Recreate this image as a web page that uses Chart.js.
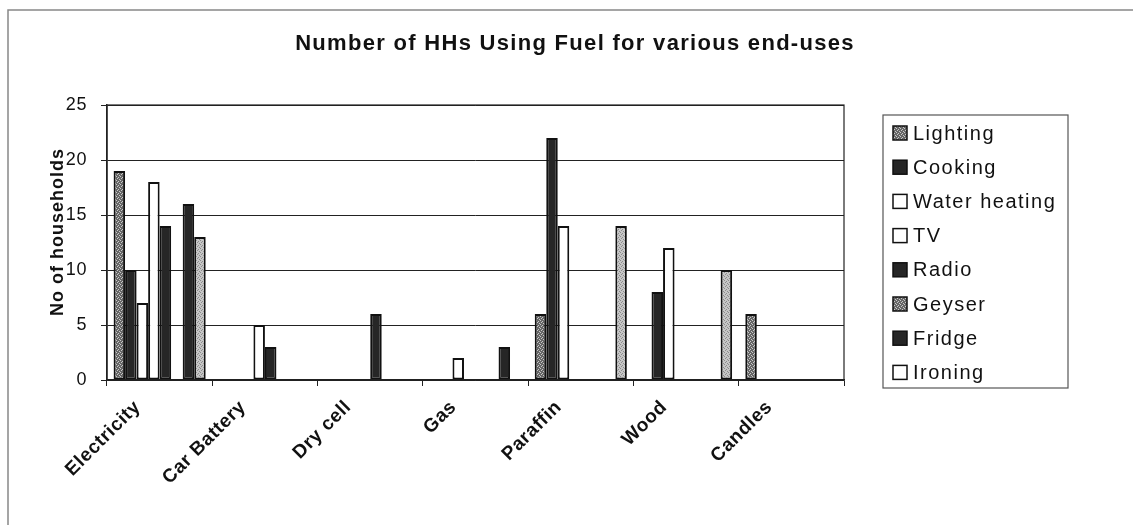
<!DOCTYPE html>
<html><head><meta charset="utf-8">
<script src="https://cdn.jsdelivr.net/npm/chart.js@4.4.1/dist/chart.umd.min.js"></script>
<style>html,body{margin:0;padding:0;background:#fff;overflow:hidden}#wrap{width:1133px;height:525px;position:relative}</style>
</head><body><div id="wrap"><canvas id="c" width="1133" height="525"></canvas></div>
<script>
const categories = ['Electricity','Car Battery','Dry cell','Gas','Paraffin','Wood','Candles'];
const seriesNames = ['Lighting','Cooking','Water heating','TV','Radio','Geyser','Fridge','Ironing'];
const lighting     = [19, 0, 0, 0,  6,  0, 6];
const cooking      = [10, 0, 0, 0, 22,  8, 0];
const waterHeating = [ 7, 0, 0, 2, 14, 12, 0];
const tv           = [18, 5, 0, 0,  0,  0, 0];
const radio        = [14, 3, 6, 0,  0,  0, 0];
const geyser       = [ 0, 0, 0, 0,  0,  0, 0];
const fridge       = [16, 0, 0, 3,  0,  0, 0];
const ironing      = [13, 0, 0, 0, 14, 10, 0];
const yTicks = [0, 5, 10, 15, 20, 25];
const chartTitle = 'Number of HHs Using Fuel for various end-uses';
const yTitle = 'No of households';

const FONT = "'Liberation Sans', Arial, sans-serif";
Chart.defaults.font.family = FONT;

const mainCtx = document.getElementById('c').getContext('2d');
function makePattern(base, dot) {
  const c = document.createElement('canvas'); c.width = 4; c.height = 4;
  const x = c.getContext('2d');
  x.fillStyle = base; x.fillRect(0, 0, 4, 4);
  x.fillStyle = dot;
  x.fillRect(0, 0, 1, 1); x.fillRect(2, 1, 1, 1); x.fillRect(1, 2, 1, 1); x.fillRect(3, 3, 1, 1);
  return mainCtx.createPattern(c, 'repeat');
}
const darkStipple = makePattern('#666666', '#c8c8c8');
const lightStipple = makePattern('#c6c6c6', '#8c8c8c');
const DARK = '#262626';

const barFills = [darkStipple, DARK, '#ffffff', '#ffffff', DARK, darkStipple, DARK, lightStipple];
const legendFills = [darkStipple, DARK, '#ffffff', '#ffffff', DARK, darkStipple, DARK, '#ffffff'];
const seriesData = [lighting, cooking, waterHeating, tv, radio, geyser, fridge, ironing];

const datasets = seriesNames.map((name, i) => ({
  label: name,
  data: seriesData[i],
  backgroundColor: barFills[i],
  borderColor: '#111',
  borderWidth: 2,
  borderSkipped: false,
  categoryPercentage: 0.875,
  barPercentage: 1.0
}));

const decor = {
  id: 'decor',
  beforeDraw(chart) {
    const ctx = chart.ctx;
    ctx.save();
    ctx.fillStyle = '#fff';
    ctx.fillRect(0, 0, chart.width, chart.height);
    ctx.strokeStyle = '#888';
    ctx.lineWidth = 1.5;
    ctx.beginPath();
    ctx.moveTo(8, 525); ctx.lineTo(8, 10); ctx.lineTo(1133, 10);
    ctx.stroke();
    ctx.restore();
    ctx.letterSpacing = '0.6px';
  },
  afterDraw(chart) {
    const ctx = chart.ctx;
    const a = chart.chartArea;
    ctx.save();
    ctx.letterSpacing = '0px';
    // plot frame
    ctx.strokeStyle = '#222';
    ctx.lineWidth = 1.2;
    ctx.strokeRect(a.left, a.top, a.right - a.left, a.bottom - a.top);
    // title
    ctx.fillStyle = '#111';
    ctx.font = "bold 22px " + FONT;
    ctx.letterSpacing = '1.3px';
    ctx.textAlign = 'center';
    ctx.textBaseline = 'middle';
    ctx.fillText(chartTitle, 575, 44);
    // y axis title
    ctx.save();
    ctx.translate(58, 232);
    ctx.rotate(-Math.PI / 2);
    ctx.font = "bold 18px " + FONT;
    ctx.letterSpacing = '1px';
    ctx.fillText(yTitle, 0, 0);
    ctx.restore();
    // legend
    ctx.letterSpacing = '1.5px';
    ctx.strokeStyle = '#555';
    ctx.lineWidth = 1.2;
    ctx.strokeRect(883, 115, 185, 273);
    ctx.font = "20px " + FONT;
    ctx.textAlign = 'left';
    seriesNames.forEach((name, i) => {
      const cy = 133 + i * 34.2;
      ctx.fillStyle = legendFills[i];
      ctx.fillRect(893, cy - 7, 14, 14);
      ctx.strokeStyle = '#111';
      ctx.lineWidth = 1.5;
      ctx.strokeRect(893, cy - 7, 14, 14);
      ctx.fillStyle = '#111';
      ctx.fillText(name, 913, cy + 1);
    });
    ctx.restore();
  }
};

new Chart(mainCtx, {
  type: 'bar',
  data: { labels: categories, datasets },
  options: {
    responsive: false,
    animation: false,
    devicePixelRatio: 1,
    layout: { padding: { top: 105, right: 289, bottom: 0, left: 0 } },
    plugins: { legend: { display: false }, title: { display: false }, tooltip: { enabled: false } },
    scales: {
      x: {
        offset: true,
        grid: { display: true, drawOnChartArea: false, drawTicks: true, tickLength: 6, color: '#222', lineWidth: 1, offset: true },
        border: { display: true, color: '#222', width: 1.5 },
        ticks: { autoSkip: false, minRotation: 45, maxRotation: 45, color: '#111', padding: 10, labelOffset: -22,
                 font: { size: 19, weight: 'bold' } },
        afterFit: s => { s.height = 145; }
      },
      y: {
        min: 0, max: 25,
        afterBuildTicks: s => { s.ticks = yTicks.map(v => ({ value: v })); },
        ticks: { color: '#111', padding: 14, font: { size: 18 } },
        grid: { color: '#222', lineWidth: 1, tickLength: 6, drawTicks: true },
        border: { display: true, color: '#222', width: 1.5 },
        afterFit: s => { s.width = 107; }
      }
    }
  },
  plugins: [decor]
});
</script></body></html>
